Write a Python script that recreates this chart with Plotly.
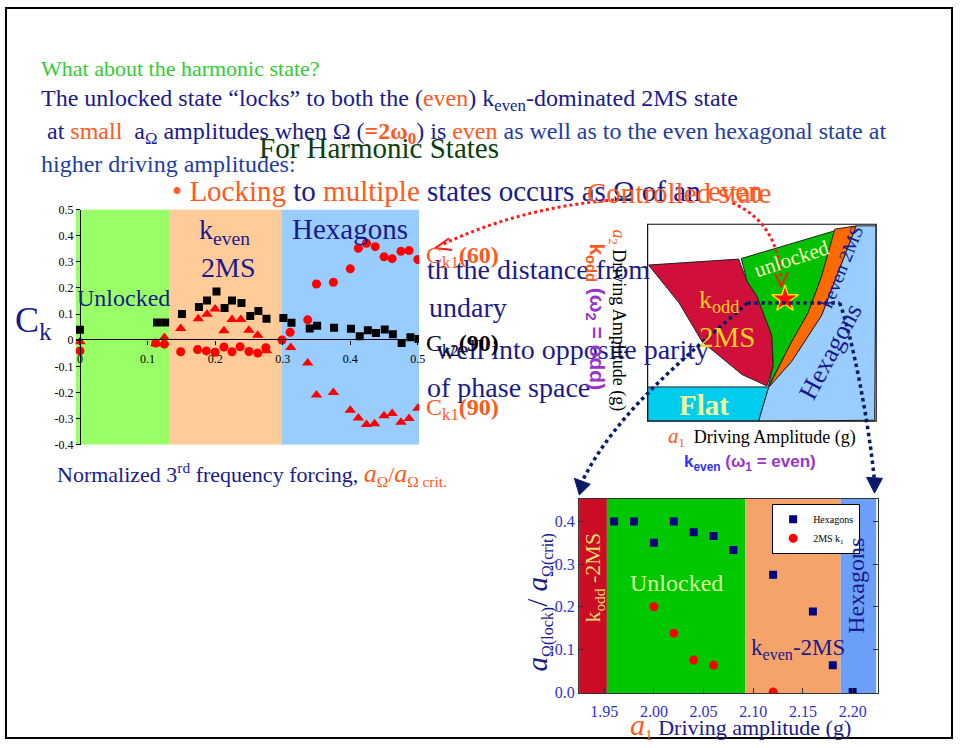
import plotly.graph_objects as go

W, H = 960, 748
SERIF = "Liberation Serif, Times New Roman, serif"
SANS = "Liberation Sans, Arial, sans-serif"
NAVY = "#1a1a8c"
BLUE2 = "#1f3d9e"
ORANGE = "#ff5a1e"
PURPLE = "#9933cc"

# ---------------- data: correlation C_k vs normalized forcing ----------------
sq_x = [0, 0.114, 0.126, 0.151, 0.176, 0.188, 0.202, 0.214, 0.225, 0.239, 0.252, 0.264, 0.276,
        0.301, 0.313, 0.340, 0.351, 0.376, 0.401, 0.414, 0.426, 0.438, 0.451, 0.463, 0.476, 0.489, 0.501]
sq_y = [0.040, 0.068, 0.068, 0.100, 0.127, 0.152, 0.186, 0.123, 0.152, 0.142, 0.093, 0.112, 0.082,
        0.085, 0.067, 0.045, 0.055, 0.048, 0.044, 0.015, 0.038, 0.028, 0.041, 0.023, -0.011, 0.011, 0.005]

ci_x = [0, 0.112, 0.125, 0.149, 0.174, 0.187, 0.200, 0.213, 0.225, 0.237, 0.250, 0.263, 0.275,
        0.299, 0.311, 0.337, 0.350, 0.375, 0.400, 0.412, 0.424, 0.437, 0.450, 0.462, 0.475, 0.487, 0.500]
ci_y = [-0.041, -0.011, -0.015, -0.044, -0.036, -0.041, -0.046, -0.026, -0.044, -0.025, -0.043, -0.049, -0.029,
        0.001, 0.030, 0.078, 0.215, 0.222, 0.273, 0.352, 0.371, 0.358, 0.319, 0.312, 0.340, 0.343, 0.309]

tr_x = [0, 0.112, 0.125, 0.149, 0.175, 0.188, 0.200, 0.213, 0.225, 0.238, 0.250, 0.263, 0.276,
        0.312, 0.337, 0.350, 0.375, 0.400, 0.412, 0.424, 0.436, 0.450, 0.462, 0.475, 0.487, 0.500]
tr_y = [-0.006, -0.014, 0.010, 0.045, 0.082, 0.099, 0.119, 0.036, 0.079, 0.079, 0.038, 0.019, -0.040,
        -0.028, -0.087, -0.210, -0.200, -0.268, -0.298, -0.323, -0.320, -0.289, -0.280, -0.314, -0.300, -0.260]

ck_regions = [(-0.0066, 0.133, "#99ff66"), (0.133, 0.298, "#ffcc99"), (0.298, 0.5018, "#99ccff")]
ck_xticks = [0, 0.1, 0.2, 0.3, 0.4, 0.5]
ck_xlabels = ["0", "0.1", "0.2", "0.3", "0.4", "0.5"]
ck_yticks = [0.5, 0.4, 0.3, 0.2, 0.1, 0, -0.1, -0.2, -0.3, -0.4]
ck_ylabels = ["0.5", "0.4", "0.3", "0.2", "0.1", "0", "-0.1", "-0.2", "-0.3", "-0.4"]

# ---------------- data: locking thresholds vs a1 ----------------
hex_a1 = [1.96, 1.98, 2.00, 2.02, 2.04, 2.06, 2.08, 2.12, 2.16, 2.18, 2.20]
hex_lock = [0.400, 0.400, 0.350, 0.400, 0.375, 0.366, 0.333, 0.275, 0.189, 0.063, 0.000]
ms_a1 = [2.00, 2.02, 2.04, 2.06, 2.12]
ms_lock = [0.200, 0.138, 0.075, 0.063, 0.000]

lock_regions = [(1.9247, 1.9527, "#cc0b25"), (1.9527, 2.092, "#00c800"),
                (2.092, 2.188, "#f4a46b"), (2.188, 2.2237, "#6c9ff8")]
lock_xticks = [1.95, 2.00, 2.05, 2.10, 2.15, 2.20]
lock_xlabels = ["1.95", "2.00", "2.05", "2.10", "2.15", "2.20"]
lock_yticks = [0.0, 0.1, 0.2, 0.3, 0.4]
lock_ylabels = ["0.0", "0.1", "0.2", "0.3", "0.4"]

# ---------------- phase diagram regions (a1, a2 normalized) ----------------
phase_odd_a1 = [0.004, 0.398, 0.435, 0.478, 0.543, 0.550, 0.522, 0.413, 0.239, 0.137, 0.004]
phase_odd_a2 = [0.793, 0.823, 0.710, 0.635, 0.436, 0.287, 0.179, 0.237, 0.403, 0.602, 0.793]
phase_unl_a1 = [0.410, 0.819, 0.761, 0.703, 0.630, 0.536, 0.529, 0.550, 0.543, 0.478, 0.435, 0.410]
phase_unl_a2 = [0.826, 0.967, 0.735, 0.552, 0.403, 0.188, 0.179, 0.287, 0.436, 0.635, 0.710, 0.826]
phase_even_a1 = [0.819, 0.913, 0.848, 0.761, 0.630, 0.529, 0.630, 0.703, 0.761, 0.819]
phase_even_a2 = [0.975, 0.992, 0.801, 0.536, 0.303, 0.171, 0.403, 0.552, 0.735, 0.975]
phase_hex_a1 = [0.913, 1.000, 0.993, 0.485, 0.529, 0.630, 0.761, 0.848, 0.913]
phase_hex_a2 = [0.992, 0.992, 0.005, 0.000, 0.171, 0.303, 0.536, 0.801, 0.992]
phase_flat_a1 = [0.000, 0.529, 0.485, 0.000, 0.000]
phase_flat_a2 = [0.174, 0.174, 0.000, 0.000, 0.174]
star_a1 = [0.601]
star_a2 = [0.620]


def px(x):
    return x / W


def py(y):
    return 1 - y / H


fig = go.Figure()

# correlation chart
fig.add_trace(go.Scatter(x=ci_x, y=ci_y, mode="markers", showlegend=False,
                         marker=dict(symbol="circle", size=9, color="#ff0000"),
                         xaxis="x", yaxis="y"))
fig.add_trace(go.Scatter(x=tr_x, y=tr_y, mode="markers", showlegend=False,
                         marker=dict(symbol="triangle-up", size=10, color="#ff0000"),
                         xaxis="x", yaxis="y"))
fig.add_trace(go.Scatter(x=sq_x, y=sq_y, mode="markers", showlegend=False,
                         marker=dict(symbol="square", size=8, color="#000000"),
                         xaxis="x", yaxis="y"))

# phase diagram
for xs, ys, col in [(phase_odd_a1, phase_odd_a2, "#d0103a"),
                    (phase_unl_a1, phase_unl_a2, "#00c000"),
                    (phase_even_a1, phase_even_a2, "#ff6a00"),
                    (phase_hex_a1, phase_hex_a2, "#99ccff"),
                    (phase_flat_a1, phase_flat_a2, "#00ccee")]:
    fig.add_trace(go.Scatter(x=xs, y=ys, mode="lines", fill="toself", fillcolor=col,
                             line=dict(color="#222222", width=1), showlegend=False,
                             hoverinfo="skip", xaxis="x3", yaxis="y3"))
fig.add_trace(go.Scatter(x=star_a1, y=star_a2, mode="markers", showlegend=False,
                         marker=dict(symbol="star", size=20, color="#ff1010",
                                     line=dict(color="#ffdd00", width=1.5)),
                         xaxis="x3", yaxis="y3"))

# locking chart
fig.add_trace(go.Scatter(x=hex_a1, y=hex_lock, mode="markers", name="Hexagons",
                         marker=dict(symbol="square", size=8, color="#000080"),
                         xaxis="x2", yaxis="y2"))
fig.add_trace(go.Scatter(x=ms_a1, y=ms_lock, mode="markers", name="2MS k<sub>1</sub>",
                         marker=dict(symbol="circle", size=9, color="#ff0000"),
                         xaxis="x2", yaxis="y2"))

shapes = []
for x0, x1, col in ck_regions:
    shapes.append(dict(type="rect", xref="x", yref="y", x0=x0, x1=x1, y0=-0.4, y1=0.5,
                       fillcolor=col, line=dict(width=0), layer="below"))
for x0, x1, col in lock_regions:
    shapes.append(dict(type="rect", xref="x2", yref="y2", x0=x0, x1=x1, y0=-0.0023, y1=0.4536,
                       fillcolor=col, line=dict(width=0), layer="below"))

# phase diagram frame
shapes.append(dict(type="rect", xref="paper", yref="paper", x0=px(651.7), x1=px(881.7),
                   y0=py(422.7), y1=py(221.7), line=dict(color="#111111", width=1.2)))


def path(points, cmd="L"):
    s = "M %f,%f" % (px(points[0][0]), py(points[0][1]))
    rest = points[1:]
    if cmd == "C":
        s += " C " + " ".join("%f,%f" % (px(a), py(b)) for a, b in rest)
    elif cmd == "Q":
        s += " Q " + " ".join("%f,%f" % (px(a), py(b)) for a, b in rest)
    else:
        for a, b in rest:
            s += " L %f,%f" % (px(a), py(b))
    return s


DOTNAVY = dict(color="#0a1a6a", width=3.5, dash="dot")
DOTRED = dict(color="#ff1a1a", width=3, dash="dot")
shapes += [
    dict(type="path", xref="paper", yref="paper", path=path([(752, 302), (845, 302)]), line=DOTNAVY),
    dict(type="path", xref="paper", yref="paper",
         path=path([(752, 302), (700, 350), (620, 410), (584, 488)], "C"), line=DOTNAVY),
    dict(type="path", xref="paper", yref="paper",
         path=path([(845, 302), (857, 335), (874, 420), (880, 484)], "C"), line=DOTNAVY),
    dict(type="path", xref="paper", yref="paper",
         path=path([(583, 498), (578, 481), (594, 487)]) + " Z",
         fillcolor="#0a1a6a", line=dict(color="#0a1a6a", width=1)),
    dict(type="path", xref="paper", yref="paper",
         path=path([(880, 496), (872, 480), (888, 481)]) + " Z",
         fillcolor="#0a1a6a", line=dict(color="#0a1a6a", width=1)),
    dict(type="path", xref="paper", yref="paper",
         path=path([(737, 200), (783, 220), (786, 278)], "Q"), line=DOTRED),
    dict(type="path", xref="paper", yref="paper",
         path=path([(780, 272), (786, 285), (793, 271)]), line=dict(color="#ff1a1a", width=2)),
    dict(type="path", xref="paper", yref="paper",
         path=path([(630, 196), (530, 202), (446, 242)], "Q"), line=DOTRED),
    dict(type="path", xref="paper", yref="paper",
         path=path([(452, 236), (438, 246), (455, 248)]), line=dict(color="#ff1a1a", width=2)),
    # slide frame
    dict(type="rect", xref="paper", yref="paper", x0=px(6), x1=px(958), y0=py(746), y1=py(1),
         line=dict(color="#000000", width=2)),
]

ann = []


def text(t, x, y, size, color=NAVY, xa="left", ya="middle", angle=0, family=SERIF):
    ann.append(dict(text=t, x=px(x), y=py(y), xref="paper", yref="paper", showarrow=False,
                    xanchor=xa, yanchor=ya, textangle=angle,
                    font=dict(size=size, color=color, family=family)))


def c(t, col):
    return "<span style='color:%s'>%s</span>" % (col, t)


def fs(t, size):
    return "<span style='font-size:%dpx'>%s</span>" % (size, t)


# slide text
text("What about the harmonic state?", 39, 63, 22, "#33cc33")
text("The unlocked state \u201clocks\u201d to both the (" + c("even", ORANGE) +
     ") k<sub>even</sub>-dominated 2MS state", 39, 95, 24)
text(" at " + c("small", ORANGE) + "  a<sub>\u03a9</sub> amplitudes when \u03a9 (" +
     c("<b>=2\u03c9<sub>0</sub></b>", ORANGE) + ") is " + c("even", ORANGE) + " " +
     c("as well as to the even hexagonal state at", BLUE2), 39, 129, 24)
text("higher driving amplitudes:", 39, 160, 24, BLUE2)
text("For Harmonic States", 381, 144, 29, "#0a3d0a", xa="center")
text(c("\u2022 Locking", ORANGE) + " to " + c("multiple", ORANGE) +
     " states occurs as \u03a9 of an " + c("even", ORANGE), 171, 188, 29)
text("Controlled state", 589, 190, 29, ORANGE)

# text running behind the charts
text("th the distance from", 428, 268, 28)
text("undary", 430, 307, 28)
text("well into opposite parity", 437, 350, 28)
text("of phase space", 428, 388, 28)

# correlation chart labels
text("Unlocked", 124, 297, 24, xa="center")
text("k<sub>even</sub>", 226, 229, 28, xa="center")
text("2MS", 229, 266, 28, xa="center")
text("Hexagons", 352, 227, 29, xa="center")
text("C<sub>k</sub>", 34, 322, 36, xa="center")
text("C<sub>k1</sub><b>(60)</b>", 427, 255, 24, ORANGE)
text("C<sub>k2</sub><b>(90)</b>", 427, 345, 24, "#000000")
text("C<sub>k1</sub><b>(90)</b>", 427, 410, 24, ORANGE)
text("Normalized 3<sup>rd</sup> frequency forcing, " +
     c("<i>" + fs("a", 26) + "</i><sub>\u03a9</sub>/<i>" + fs("a", 26) + "</i><sub>\u03a9 crit.</sub>", ORANGE),
     55, 477, 22)

# phase diagram labels
text(c("<i>a</i><sub>2</sub>", ORANGE) + " Driving Amplitude (g)", 621, 320, 18, "#000000",
     xa="center", angle=90)
text(c("<b>k<sub>odd</sub></b>", ORANGE) + " <b>(\u03c9<sub>2</sub> = odd)</b>", 600, 316, 21,
     PURPLE, xa="center", angle=90, family=SANS)
text(c("<i>" + fs("a", 21) + "</i><sub>1</sub>", ORANGE) + "  Driving Amplitude (g)", 767, 439, 18,
     "#000000", xa="center")
text("<b>" + c("k<sub>even</sub>", "#3333ee") + " (\u03c9<sub>1</sub> = even)</b>", 755, 465, 17,
     PURPLE, xa="center", family=SANS)
text("k<sub>odd</sub>", 724, 300, 26, "#ffd21f", xa="center")
text("2MS", 732, 337, 29, "#ffd21f", xa="center")
text("unlocked", 796, 257, 21, "#ffffc0", xa="center", angle=-18)
text("keven 2MS", 847, 265, 19, NAVY, xa="center", angle=-68)
text("Hexagons", 836, 352, 26, NAVY, xa="center", angle=-62)
text("<b>Flat</b>", 708, 406, 29, "#eeff99", xa="center")

# locking chart labels
text("k<sub>odd</sub> -2MS", 598, 582, 22, "#e8dc6a", xa="center", angle=-90)
text("Unlocked", 681, 588, 24, "#ddff9f", xa="center")
text("k<sub>even</sub>-2MS", 803, 655, 23, NAVY, xa="center")
text("Hexagons", 862, 591, 24, NAVY, xa="center", angle=-90)
text("<i>a</i><sub>" + fs("\u03a9(lock)", 16) + "</sub>/ <i>a</i><sub>" + fs("\u03a9(crit)", 16) + "</sub>",
     542, 608, 29, NAVY, xa="center", angle=-90)
text(c("<i>" + fs("a", 30) + "</i><sub>1</sub>", ORANGE) + " Driving amplitude (g)", 745, 733, 22,
     NAVY, xa="center")

TICKFONT1 = dict(family=SERIF, size=12, color="#000000")
TICKFONT2 = dict(family=SERIF, size=16, color="#3030cc")

fig.update_layout(
    width=W, height=H, autosize=False,
    margin=dict(l=0, r=0, t=0, b=0),
    paper_bgcolor="#ffffff", plot_bgcolor="rgba(0,0,0,0)",
    shapes=shapes, annotations=ann,
    xaxis=dict(domain=[px(76), px(421.7)], range=[-0.0066, 0.5018], anchor="free",
               position=py(339.3), showgrid=False, zeroline=False, showline=True,
               linecolor="#000000", linewidth=1.2, ticks="outside", ticklen=4,
               tickcolor="#000000", tickvals=ck_xticks, ticktext=ck_xlabels,
               tickfont=TICKFONT1, ticklabelstandoff=4),
    yaxis=dict(domain=[py(446.7), py(206.7)], range=[-0.4, 0.5], anchor="free",
               position=px(80.5), showgrid=False, zeroline=False, showline=True,
               linecolor="#000000", linewidth=1.2, ticks="outside", ticklen=4,
               tickcolor="#000000", tickvals=ck_yticks, ticktext=ck_ylabels,
               tickfont=TICKFONT1),
    xaxis2=dict(domain=[px(582.7), px(883.3)], range=[1.9247, 2.2253], anchor="y2",
                showgrid=False, zeroline=False, showline=True, mirror=True,
                linecolor="#333333", linewidth=1.2, ticks="inside", ticklen=5,
                tickcolor="#333333", tickvals=lock_xticks, ticktext=lock_xlabels,
                tickfont=TICKFONT2, ticklabelstandoff=4),
    yaxis2=dict(domain=[py(700), py(501.7)], range=[-0.0023, 0.4536], anchor="x2",
                showgrid=False, zeroline=False, showline=True, mirror="ticks",
                linecolor="#333333", linewidth=1.2, ticks="inside", ticklen=5,
                tickcolor="#333333", tickvals=lock_yticks, ticktext=lock_ylabels,
                tickfont=TICKFONT2),
    xaxis3=dict(domain=[px(651.7), px(881.7)], range=[0, 1], anchor="y3", visible=False),
    yaxis3=dict(domain=[py(422.7), py(221.7)], range=[0, 1], anchor="x3", visible=False),
    legend=dict(x=px(777), y=py(507), xanchor="left", yanchor="top", bgcolor="#ffffff",
                bordercolor="#000000", borderwidth=1,
                font=dict(family=SERIF, size=10, color="#000000"),
                itemwidth=30, tracegroupgap=0),
)

fig.write_html("out.html")
